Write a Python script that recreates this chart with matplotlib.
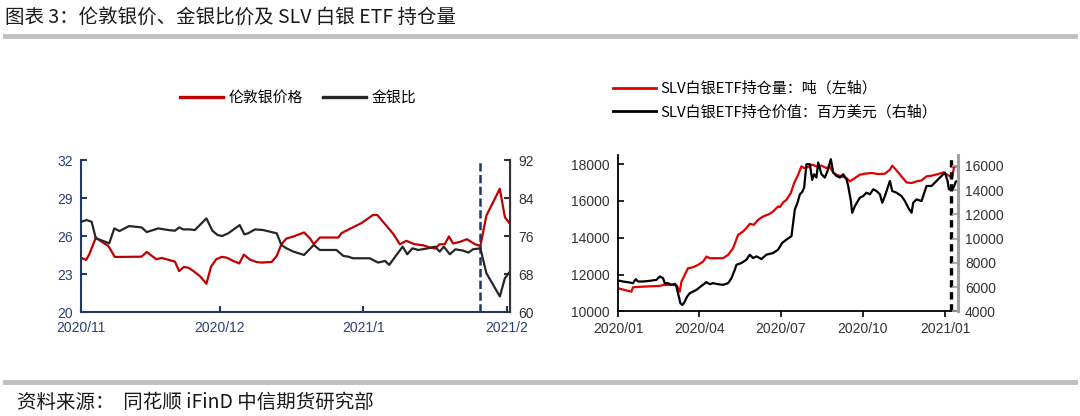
import pandas as pd
import matplotlib
matplotlib.use("Agg")
import matplotlib.pyplot as plt

plt.rcParams['font.family'] = ['Noto Sans CJK SC', 'DejaVu Sans']

# ---- left panel: London silver price vs gold/silver ratio (days since 2020-11-01)
silver_days = [0, 1.1, 1.8, 3.2, 4.5, 5.9, 7.3, 9.1, 13.1, 14.2, 15.3, 16.3, 17.4, 18.5,
               20.3, 21.2, 22.2, 23.2, 24.3, 25.7, 27.1, 28.1, 29.2, 30.4, 31.5, 32.9,
               34.2, 35.2, 36.4, 37.9, 39.0, 41.2, 42.3, 43.3, 44.4, 45.9, 48.2, 49.5,
               50.3, 51.6, 55.6, 56.3, 57.7, 60.6, 63.1, 64.0, 66.0, 67.5, 68.9, 70.3,
               72.1, 73.9, 75.4, 76.5, 77.5, 78.6, 79.5, 80.4, 81.9, 83.4, 85.1, 86.3,
               87.6, 90.5, 91.6, 92.7]
silver_price = [24.29, 24.11, 24.56, 25.88, 25.54, 25.22, 24.35, 24.35, 24.37, 24.74, 24.43,
                24.16, 24.27, 24.16, 23.98, 23.23, 23.55, 23.5, 23.23, 22.83, 22.23, 23.58,
                24.16, 24.35, 24.29, 24.03, 23.84, 24.53, 24.16, 23.95, 23.9, 23.95, 24.43,
                25.35, 25.8, 25.96, 26.28, 25.8, 25.35, 25.88, 25.88, 26.23, 26.49, 27.02,
                27.66, 27.66, 26.81, 26.15, 25.35, 25.62, 25.35, 25.27, 25.09, 25.01, 25.35,
                25.35, 25.96, 25.41, 25.54, 25.75, 25.35, 25.22, 27.61, 29.73, 27.48, 26.95]

ratio_days = [0, 1.2, 2.3, 3.2, 4.8, 6.1, 7.2, 8.3, 10.4, 13.1, 14.2, 16.7, 18.9, 20.3,
              21.2, 22.1, 23.5, 24.6, 27.1, 28.4, 29.5, 30.5, 31.8, 34.3, 35.3, 36.1,
              37.6, 39.4, 42.3, 43.3, 44.4, 45.9, 48.2, 50.3, 51.6, 55.2, 56.7, 57.7,
              58.8, 62.4, 64.2, 65.7, 66.6, 69.5, 70.5, 71.6, 72.9, 75.0, 76.5, 77.5,
              78.4, 79.7, 80.9, 82.6, 83.7, 84.7, 86.3, 87.6, 90.5, 91.6, 92.7]
gold_silver_ratio = [79.0, 79.35, 79.0, 75.51, 74.95, 74.46, 77.6, 77.04, 78.09, 77.81, 76.83,
                     77.6, 77.25, 77.11, 77.81, 77.39, 77.39, 77.25, 79.7, 77.11, 76.21, 76.0,
                     76.56, 78.3, 76.35, 76.56, 77.39, 77.25, 76.56, 74.11, 73.41, 72.71,
                     72.01, 74.11, 73.06, 73.06, 71.8, 71.66, 71.31, 71.31, 70.4, 70.75,
                     69.92, 73.76, 72.15, 73.41, 73.06, 73.41, 73.76, 72.71, 73.76, 72.15,
                     73.2, 72.92, 72.5, 73.2, 73.41, 68.17, 63.28, 67.12, 68.52]

left_start = "2020-11-01"
left_marker_day = 86.3
left_ticks = ["2020-11-01", "2020-12-01", "2021-01-01", "2021-02-01"]
left_ticklabels = ["2020/11", "2020/12", "2021/1", "2021/2"]

# ---- right panel: SLV holdings (t) and value (USD mn), days since 2020-01-01
hold_days = [0, 15, 16.8, 28.0, 46.7, 50.4, 65.4, 69.1, 71.0, 78.4, 84.0, 89.6, 95.2, 99.0,
             102.7, 117.6, 123.2, 128.8, 134.4, 140.0, 143.7, 147.5, 152.0, 156.8, 162.4,
             169.9, 173.6, 179.2, 181.1, 184.8, 188.5, 193.4, 197.1, 201.6, 205.3, 208.3,
             212.8, 217.3, 222.1, 227.7, 233.3, 237.1, 240.8, 244.5, 250.1, 255.7, 259.5,
             265.1, 270.7, 276.3, 283.7, 291.2, 298.7, 304.3, 306.9, 311.7, 317.3, 322.9,
             328.5, 334.1, 339.7, 345.3, 350.9, 358.4, 364.0, 370.3, 374, 376, 380]
hold_tons = [11252, 11070, 11306, 11342, 11379, 11433, 11433, 11070, 11615, 12342, 12396,
             12523, 12705, 12977, 12887, 12887, 13068, 13432, 14158, 14340, 14522, 14758,
             14703, 14976, 15157, 15303, 15430, 15702, 15666, 15920, 16066, 16429, 16974,
             17428, 17882, 17792, 17846, 17973, 17882, 17919, 17792, 17846, 17555, 17428,
             17337, 17247, 17065, 17247, 17428, 17483, 17519, 17465, 17483, 17701, 17919,
             17664, 17337, 17010, 16974, 17065, 17119, 17337, 17374, 17465, 17555, 17374,
             17250, 17850, 17900]

value_days = [0, 5.6, 13.1, 16.8, 19.8, 22.4, 28.0, 35.5, 43.0, 46.7, 50.4, 52.3, 56.0, 59.8,
              63.5, 65.4, 67.2, 69.8, 72.1, 74.7, 77.3, 80.3, 84.0, 87.8, 93.4, 99.0, 102.7,
              106.4, 112.0, 117.6, 123.2, 127.0, 130.7, 132.6, 138.2, 143.7, 147.5, 151.2,
              155.0, 160.5, 166.1, 173.6, 179.2, 183.7, 188.5, 194.1, 197.9, 200.9, 203.5,
              206.1, 208.3, 210.9, 214.7, 217.3, 219.5, 222.1, 224.0, 227.7, 231.5, 234.5,
              238.2, 240.8, 244.5, 248.3, 252.0, 255.7, 257.6, 260.6, 262.1, 265.1, 270.7,
              274.4, 278.1, 281.9, 285.6, 289.3, 293.1, 295.7, 298.7, 304.3, 306.9, 311.7,
              317.3, 321.1, 324.8, 328.5, 330.4, 334.1, 339.7, 345.3, 350.9, 356.5, 362.1,
              365.8, 368.8, 370.3, 372.5, 374, 376, 378, 380]
value_usd_mn = [6542, 6459, 6376, 6321, 6653, 6459, 6459, 6515, 6598, 6874, 6736, 6321, 6321,
                6183, 6266, 6044, 5491, 4661, 4523, 4799, 5214, 5491, 5629, 5768, 6100, 6404,
                6239, 6321, 6239, 6183, 6321, 6736, 7428, 7843, 7982, 8258, 8673, 8397, 8534,
                8314, 8673, 8812, 9088, 9641, 9918, 10194, 12408, 12961, 13653, 13846, 14206,
                16143, 16143, 14842, 15313, 15037, 16282, 15313, 15037, 15589, 16558, 15452,
                15174, 15037, 15313, 14898, 14344, 13099, 12132, 12684, 13377, 13514, 13791,
                13653, 14068, 13929, 13653, 12961, 13514, 14759, 13929, 13791, 13514, 13099,
                12547, 12132, 12961, 13238, 13099, 14344, 14344, 14759, 15174, 15452, 14759,
                14068, 14050, 14000, 14300, 14700, 14750]

right_start = "2020-01-01"
right_marker_day = 372.6
right_ticks = ["2020-01-01", "2020-04-01", "2020-07-01", "2020-10-01", "2021-01-01"]
right_ticklabels = ["2020/01", "2020/04", "2020/07", "2020/10", "2021/01"]


def to_dates(start, days):
    return pd.Timestamp(start) + pd.to_timedelta(days, unit="D")


navy = "#1F3864"
navy_txt = "#2B3F7A"
tick_font = "Liberation Sans"

fig = plt.figure(figsize=(10.8, 4.16), dpi=100)

# header / footer
fig.text(0.005, 1 - 17 / 416, "图表 3：伦敦银价、金银比价及 SLV 白银 ETF 持仓量",
         fontsize=14, va="center", ha="left", color="#1a1a1a")
fig.add_artist(plt.Line2D([0.005, 0.995], [1 - 36 / 416] * 2, color="#BFBFBF", lw=3.5))
fig.add_artist(plt.Line2D([0.005, 0.995], [1 - 382 / 416] * 2, color="#BFBFBF", lw=3.5))
fig.text(0.016, 1 - 402 / 416, "资料来源：  同花顺 iFinD 中信期货研究部",
         fontsize=14, va="center", ha="left", color="#1a1a1a")

# ---------------- left panel
ax1 = fig.add_axes([81 / 1080, 1 - 312 / 416, 429 / 1080, 152 / 416])
ax2 = ax1.twinx()
l1, = ax1.plot(to_dates(left_start, silver_days), silver_price, color="#C00000", lw=1.6,
               label="伦敦银价格")
l2, = ax2.plot(to_dates(left_start, ratio_days), gold_silver_ratio, color="#262626", lw=1.6,
               label="金银比")
ax1.axvline(to_dates(left_start, [left_marker_day])[0], color=navy, lw=1.8,
            ls=(0, (3.3, 1.4)))
ax1.set_xlim(to_dates(left_start, [0])[0], to_dates(left_start, [92.7])[0])
ax1.set_ylim(20, 32)
ax2.set_ylim(60, 92)
ax1.set_yticks([20, 23, 26, 29, 32])
ax2.set_yticks([60, 68, 76, 84, 92])
ax1.set_xticks(pd.to_datetime(left_ticks))
ax1.set_xticklabels(left_ticklabels)
for ax in (ax1, ax2):
    ax.spines["top"].set_visible(False)
ax1.spines["left"].set_color(navy)
ax1.spines["bottom"].set_color(navy)
ax1.spines["left"].set_linewidth(1.5)
ax1.spines["bottom"].set_linewidth(1.5)
ax2.spines["left"].set_visible(False)
ax2.spines["bottom"].set_visible(False)
ax2.spines["right"].set_color("#333333")
ax2.spines["right"].set_linewidth(1.5)
ax1.tick_params(axis="y", direction="in", length=4, width=1.5, color=navy,
                labelcolor=navy_txt, labelsize=10, pad=6)
ax1.tick_params(axis="x", direction="in", length=4, width=1.5, color=navy,
                labelcolor=navy_txt, labelsize=10, pad=6.5)
ax2.tick_params(axis="y", direction="in", length=4, width=1.5, color="#333333",
                labelcolor="#333333", labelsize=10, pad=6)
for lab in ax1.get_xticklabels() + ax1.get_yticklabels() + ax2.get_yticklabels():
    lab.set_family(tick_font)

leg1 = fig.legend(handles=[l1, l2], loc="center", bbox_to_anchor=(298 / 1080, 1 - 98 / 416),
                  ncol=2, frameon=False, fontsize=10.7, handlelength=2.9,
                  columnspacing=1.4, handletextpad=0.35)
for ln in leg1.get_lines():
    ln.set_linewidth(2.4)

# ---------------- right panel
ax3 = fig.add_axes([618 / 1080, 1 - 311.3 / 416, 340 / 1080, 156.3 / 416])
ax4 = ax3.twinx()
l3, = ax3.plot(to_dates(right_start, hold_days), hold_tons, color="#E00000", lw=1.6,
               label="SLV白银ETF持仓量：吨（左轴）")
l4, = ax4.plot(to_dates(right_start, value_days), value_usd_mn, color="black", lw=1.6,
               label="SLV白银ETF持仓价值：百万美元（右轴）")
ax3.axvline(to_dates(right_start, [right_marker_day])[0], color="black", lw=2.4,
            ls=(0, (2.2, 1.4)))
ax3.set_xlim(to_dates(right_start, [0])[0], to_dates(right_start, [380.5])[0])
ax3.set_ylim(10000, 18500)
ax4.set_ylim(4000, 16900)
ax3.set_yticks(range(10000, 18001, 2000))
ax4.set_yticks(range(4000, 16001, 2000))
ax3.set_xticks(pd.to_datetime(right_ticks))
ax3.set_xticklabels(right_ticklabels)
for ax in (ax3, ax4):
    ax.spines["top"].set_visible(False)
ax4.spines["left"].set_visible(False)
ax4.spines["bottom"].set_visible(False)
ax3.spines["left"].set_linewidth(1.3)
ax3.spines["bottom"].set_linewidth(1.3)
ax4.spines["right"].set_color("#A0A0A0")
ax4.spines["right"].set_linewidth(2.2)
ax3.tick_params(axis="y", direction="in", length=4, width=1.2, labelsize=10,
                labelcolor="#333333", pad=6)
ax3.tick_params(axis="x", direction="out", length=4, width=1.2, labelsize=10,
                labelcolor="#333333", pad=4)
ax4.tick_params(axis="y", direction="in", length=4, width=1.2, color="#A0A0A0",
                labelsize=10, labelcolor="#333333", pad=5)
for lab in ax3.get_xticklabels() + ax3.get_yticklabels() + ax4.get_yticklabels():
    lab.set_family(tick_font)

leg2 = fig.legend(handles=[l3, l4], loc="center left",
                  bbox_to_anchor=(599 / 1080, 1 - 100.5 / 416), ncol=1, frameon=False,
                  fontsize=10.8, handlelength=2.9, handletextpad=0.3, labelspacing=0.6)
for ln in leg2.get_lines():
    ln.set_linewidth(2.0)

fig.savefig("out.png", dpi=100)
